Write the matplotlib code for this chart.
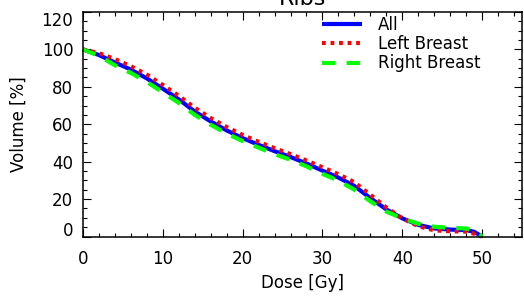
import matplotlib
matplotlib.use("Agg")
import matplotlib.pyplot as plt
from matplotlib.ticker import MultipleLocator

plt.rcParams['font.family'] = ['DejaVu Sans']

dose = [0, 2, 4, 6, 8, 10, 12, 14, 16, 18, 20, 22, 24, 26, 28, 30, 32, 34, 36, 38,
        40, 42, 44, 46, 48, 49, 50]
vol_all = [100, 97, 93, 89.2, 84.5, 79, 73.3, 66.8, 61.5, 56.7, 52.6, 49, 45.6, 42.5,
           39, 35.2, 31.5, 27, 20.5, 14.5, 9.7, 6.2, 4.3, 3.7, 3.4, 2.5, 0]
vol_left = [100, 98, 94.8, 91, 86.5, 81, 75.2, 68.8, 63.3, 58.5, 54.3, 50.6, 47.2, 44,
            40.6, 37, 33.3, 29, 22.3, 15.5, 9.7, 5.5, 3.3, 2.8, 2.6, 1.5, 0]
vol_right = [100, 96.5, 91.5, 87.4, 82.6, 77, 71.4, 65, 59.7, 55, 51, 47.5, 44, 41,
             37.5, 33.5, 29.8, 25, 18.8, 13.3, 9.7, 6.8, 5.2, 4.6, 4.3, 3, 0]
series_labels = ["All", "Left Breast", "Right Breast"]
title = "Ribs"
xlabel = "Dose [Gy]"
ylabel = "Volume [%]"

W, H = 524, 296
fig = plt.figure(figsize=(W / 100, H / 100), dpi=100)
L, R, T, B = 83, 522, 12, 236.5
ax = fig.add_axes([L / W, 1 - B / H, (R - L) / W, (B - T) / H])

lw = 3
ax.plot(dose, vol_all, color=(0, 0, 1), lw=lw, ls='-', label=series_labels[0],
        clip_on=False, solid_capstyle='butt')
ax.plot(dose, vol_left, color=(1, 0, 0), lw=lw, ls=(0, (0.9, 1.15)),
        label=series_labels[1], clip_on=False)
ax.plot(dose, vol_right, color=(0, 1, 0), lw=lw, ls=(0, (3.2, 2.7)),
        label=series_labels[2], clip_on=False)

ax.set_xlim(0, 55)
ax.set_ylim(0, 120)
ax.xaxis.set_major_locator(MultipleLocator(10))
ax.xaxis.set_minor_locator(MultipleLocator(2))
ax.yaxis.set_major_locator(MultipleLocator(20))
ax.yaxis.set_minor_locator(MultipleLocator(5))
ax.tick_params(which='both', direction='in', top=True, right=True, width=0.8,
               labelsize=12, colors='black')
ax.tick_params(which='major', length=5.8)
ax.tick_params(which='minor', length=3.1)
ax.tick_params(axis='x', which='major', pad=9.5)
ax.tick_params(axis='y', which='major', pad=7)
for s in ax.spines.values():
    s.set_linewidth(1.1)

for lab in ax.get_yticklabels():
    t = lab.get_text()
    if t == '0':
        lab.set_va('baseline')
    elif t == '120':
        lab.set_va('top')

ax.set_xlabel(xlabel, fontsize=12)
ax.set_ylabel(ylabel, fontsize=12)
ax.xaxis.set_label_coords(0.5, -(283 - B) / (B - T), transform=ax.transAxes)
ax.yaxis.set_label_coords(-(L - 19) / (R - L), 0.5, transform=ax.transAxes)
ax.xaxis.label.set_va('center')
ax.yaxis.label.set_va('center')

fig.text((L + R) / 2 / W, 1 - 5 / H, title, fontsize=16, ha='center', va='baseline')

leg = ax.legend(loc='upper left', bbox_to_anchor=((322 - L) / (R - L), 0.982),
                frameon=False, fontsize=12, borderpad=0, borderaxespad=0,
                handlelength=2.4, handletextpad=0.95, labelspacing=0.07)

fig.savefig("out.png", dpi=100)
